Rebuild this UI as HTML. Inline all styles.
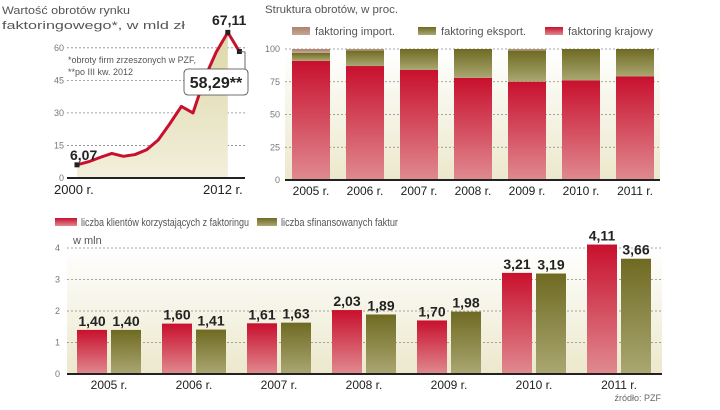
<!DOCTYPE html>
<html><head><meta charset="utf-8"><style>
body{margin:0;background:#fff;width:720px;height:405px;overflow:hidden;font-family:"Liberation Sans",sans-serif}
svg text{font-family:"Liberation Sans",sans-serif}
</style></head><body>
<svg width="720" height="405" viewBox="0 0 720 405">
<defs>
<linearGradient id="bg" x1="0" y1="0" x2="0" y2="1"><stop offset="0" stop-color="#fff"/><stop offset="1" stop-color="#ece8cc"/></linearGradient>
<linearGradient id="red" x1="0" y1="0" x2="0" y2="1"><stop offset="0" stop-color="#c8102e"/><stop offset="1" stop-color="#e08a90"/></linearGradient>
<linearGradient id="olive" x1="0" y1="0" x2="0" y2="1"><stop offset="0" stop-color="#6f6a22"/><stop offset="1" stop-color="#aaa772"/></linearGradient>
<linearGradient id="imp" x1="0" y1="0" x2="0" y2="1"><stop offset="0" stop-color="#a9846e"/><stop offset="1" stop-color="#c7a593"/></linearGradient>
<linearGradient id="area" x1="0" y1="0" x2="0" y2="1"><stop offset="0" stop-color="#ddd7a8"/><stop offset="1" stop-color="#f2efdc"/></linearGradient>
</defs>
<g id="c1"></g>
<g id="c2"></g>
<g id="c3"></g>
</svg>
<script>
const NS="http://www.w3.org/2000/svg";
function mk(p,t,a,txt){const e=document.createElementNS(NS,t);for(const k in a)e.setAttribute(k,a[k]);if(txt!==undefined)e.textContent=txt;p.appendChild(e);return e;}

// Chart 1 data
const c1Values=[6.07,7.5,9.5,11.3,10,10.8,13,17.5,25,33,30,46,58,67.11,58.29];
const c1Ticks=[0,15,30,45,60];
// Chart 2 data
const c2Years=["2005 r.","2006 r.","2007 r.","2008 r.","2009 r.","2010 r.","2011 r."];
const c2Krajowy=[91,87,84,78,75,76,79];
const c2Eksport=[6,12,16,22,24,24,21];
const c2Import=[3,1,0,0,1,0,0];
const c2Ticks=[0,25,50,75,100];
// Chart 3 data
const c3Years=["2005 r.","2006 r.","2007 r.","2008 r.","2009 r.","2010 r.","2011 r."];
const c3Klienci=[1.40,1.60,1.61,2.03,1.70,3.21,4.11];
const c3Faktury=[1.40,1.41,1.63,1.89,1.98,3.19,3.66];
const c3Ticks=[0,1,2,3,4];

// ---- Chart 1
(function(){
const g=document.getElementById('c1');
const y=v=>178-v*2.17, x=i=>77+i*11.6;
let e=mk(g,'text',{x:2,y:14,'font-size':11,fill:'#555',textLength:128,lengthAdjust:'spacingAndGlyphs'},'Wartość obrotów rynku');

mk(g,'text',{x:2,y:29,'font-size':11,fill:'#555',textLength:183,lengthAdjust:'spacingAndGlyphs'},'faktoringowego*, w mld zł');
c1Ticks.forEach(t=>{
 const l=mk(g,'line',{x1:67,x2:245,y1:y(t),y2:y(t),stroke:'#888','stroke-dasharray':'2,2','stroke-width':0.8});
 
 const tx=mk(g,'text',{x:64,y:y(t)+3,'font-size':9,fill:'#777','text-anchor':'end'},String(t));
 
});
let pts=c1Values.slice(0,14).map((v,i)=>x(i)+','+y(v));
const a=mk(g,'polygon',{points:x(0)+','+y(0)+' '+pts.join(' ')+' '+x(13)+','+y(0),fill:'url(#area)'});

mk(g,'line',{x1:67,x2:245,y1:178,y2:178,stroke:'#222','stroke-width':2});
const pl=mk(g,'polyline',{points:c1Values.map((v,i)=>x(i)+','+y(v)).join(' '),fill:'none',stroke:'#c8102e','stroke-width':3,'stroke-linejoin':'round'});

[0,13,14].forEach(i=>{const m=mk(g,'rect',{x:x(i)-2.5,y:y(c1Values[i])-2.5,width:5,height:5,fill:'#222'});
 });
mk(g,'text',{x:70,y:160,'font-size':14,'font-weight':'bold',fill:'#222'},'6,07');
mk(g,'text',{x:212,y:25,'font-size':14,'font-weight':'bold',fill:'#222'},'67,11');
mk(g,'polyline',{points:`${x(14)},${y(c1Values[14])} 245,52 245,70`,fill:'none',stroke:'#444','stroke-width':0.8});
mk(g,'rect',{x:184,y:69,width:64,height:26,rx:4,fill:'#fff',stroke:'#444','stroke-width':0.8});
mk(g,'text',{x:216,y:88,'font-size':16,'font-weight':'bold',fill:'#222','text-anchor':'middle'},'58,29**');
mk(g,'text',{x:68,y:63,'font-size':9,fill:'#555',textLength:128,lengthAdjust:'spacingAndGlyphs'},'*obroty firm zrzeszonych w PZF,');
mk(g,'text',{x:68,y:75,'font-size':9,fill:'#555'},'**po III kw. 2012');
mk(g,'text',{x:54,y:194,'font-size':13,fill:'#222'},'2000 r.');
mk(g,'text',{x:203,y:194,'font-size':13,fill:'#222'},'2012 r.');
})();

// ---- Chart 2
(function(){
const g=document.getElementById('c2');
const y=v=>180-v*1.31, x=i=>292+i*54, w=38;
mk(g,'text',{x:265,y:13,'font-size':11,fill:'#555',textLength:133,lengthAdjust:'spacingAndGlyphs'},'Struktura obrotów, w proc.');
const leg=[['url(#imp)','faktoring import.',292,80],['url(#olive)','faktoring eksport.',418,85],['url(#red)','faktoring krajowy',545,85]];
leg.forEach(l=>{const r=mk(g,'rect',{x:l[2],y:27,width:18,height:8,fill:l[0]});
 
 const t=mk(g,'text',{x:l[2]+23,y:35,'font-size':11,fill:'#555',textLength:l[3],lengthAdjust:'spacingAndGlyphs'},l[1]);
 });
mk(g,'rect',{x:285,y:49,width:375,height:131,fill:'url(#bg)'});
c2Ticks.forEach(t=>{
 const l=mk(g,'line',{x1:285,x2:660,y1:y(t),y2:y(t),stroke:'#888','stroke-dasharray':'2,2','stroke-width':0.8});
 
 const tx=mk(g,'text',{x:280,y:y(t)+3,'font-size':9,fill:'#777','text-anchor':'end'},String(t));
 
});
c2Years.forEach((yr,i)=>{
 let b=0;
 [[c2Krajowy[i],'url(#red)','c2-bar-krajowy'],[c2Eksport[i],'url(#olive)','c2-bar-eksport'],[c2Import[i],'url(#imp)','c2-bar-import']].forEach(s=>{
  if(s[0]>0){const r=mk(g,'rect',{x:x(i),y:y(b+s[0]),width:w,height:y(b)-y(b+s[0]),fill:s[1]});
   }
  b+=s[0];
 });
 const t=mk(g,'text',{x:x(i)+w/2,y:195,'font-size':12,fill:'#222','text-anchor':'middle'},yr);
 
});
mk(g,'line',{x1:285,x2:660,y1:180,y2:180,stroke:'#222','stroke-width':2});
})();

// ---- Chart 3
(function(){
const g=document.getElementById('c3');
const y=v=>374-v*31.5, x=i=>77+i*85, w=30;
mk(g,'rect',{x:55,y:218,width:22,height:8,fill:'url(#red)'});
mk(g,'text',{x:81,y:226,'font-size':11,fill:'#555',textLength:168,lengthAdjust:'spacingAndGlyphs'},'liczba klientów korzystających z faktoringu');
mk(g,'rect',{x:257,y:218,width:20,height:8,fill:'url(#olive)'});
mk(g,'text',{x:281,y:226,'font-size':11,fill:'#555',textLength:117,lengthAdjust:'spacingAndGlyphs'},'liczba sfinansowanych faktur');
mk(g,'text',{x:73,y:244,'font-size':11,fill:'#555'},'w mln');
mk(g,'rect',{x:67,y:248,width:595,height:126,fill:'url(#bg)'});
c3Ticks.forEach(t=>{
 const l=mk(g,'line',{x1:67,x2:662,y1:y(t),y2:y(t),stroke:'#888','stroke-dasharray':'2,2','stroke-width':0.8});
 
 const tx=mk(g,'text',{x:60,y:y(t)+3,'font-size':9,fill:'#777','text-anchor':'end'},String(t));
 
});
const fmt=v=>v.toFixed(2).replace('.',',');
c3Years.forEach((yr,i)=>{
 const r1=mk(g,'rect',{x:x(i),y:y(c3Klienci[i]),width:w,height:374-y(c3Klienci[i]),fill:'url(#red)'});
 
 const r2=mk(g,'rect',{x:x(i)+34,y:y(c3Faktury[i]),width:w,height:374-y(c3Faktury[i]),fill:'url(#olive)'});
 
 const v1=mk(g,'text',{x:x(i)+w/2,y:y(c3Klienci[i])-4,'font-size':14,'font-weight':'bold',fill:'#222','text-anchor':'middle'},fmt(c3Klienci[i]));
 
 const v2=mk(g,'text',{x:x(i)+34+w/2,y:y(c3Faktury[i])-4,'font-size':14,'font-weight':'bold',fill:'#222','text-anchor':'middle'},fmt(c3Faktury[i]));
 
 const t=mk(g,'text',{x:x(i)+32,y:389,'font-size':12,fill:'#222','text-anchor':'middle'},yr);
 
});
mk(g,'line',{x1:67,x2:662,y1:374,y2:374,stroke:'#222','stroke-width':2});
const s=mk(g,'text',{x:661,y:401,'font-size':9,fill:'#666','text-anchor':'end'},'źródło: PZF');

})();
</script>
</body></html>
